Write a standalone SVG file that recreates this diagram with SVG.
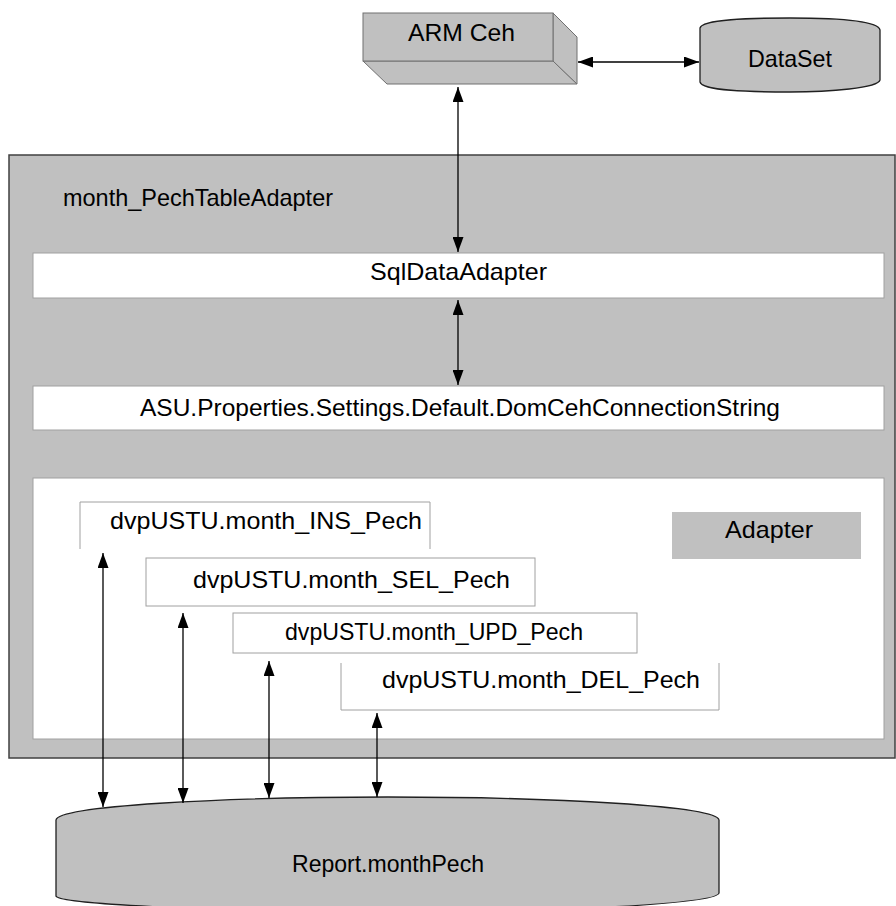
<svg xmlns="http://www.w3.org/2000/svg" width="896" height="906" viewBox="0 0 896 906">
  <style>
    text { font-family: "Liberation Sans", Arial, sans-serif; font-size: 24px; fill: #000; }
    .box { fill: #ffffff; stroke: #a0a0a0; stroke-width: 1; }
    .edge { fill: none; stroke: #a0a0a0; stroke-width: 1; }
    .conn { stroke: #000; stroke-width: 1.3; fill: none; marker-start: url(#ah); marker-end: url(#ah); }
  </style>
  <defs>
    <marker id="ah" viewBox="0 0 15 11" refX="15" refY="5.5" markerWidth="15" markerHeight="11" markerUnits="userSpaceOnUse" orient="auto-start-reverse">
      <path d="M0,0 L15,5.5 L0,11 z" fill="#000"/>
    </marker>
  </defs>

  <rect width="896" height="906" fill="#ffffff"/>

  <!-- outer table adapter container -->
  <g id="month_PechTableAdapter">
    <rect x="9" y="155" width="886" height="603" fill="#c0c0c0" stroke="#404040" stroke-width="1.5"/>
    <text x="63" y="206" textLength="270" lengthAdjust="spacingAndGlyphs">month_PechTableAdapter</text>
  </g>

  <!-- ARM Ceh 3D block -->
  <g id="arm_ceh">
    <polygon points="363,61 553,61 577,84 387,84" fill="#c0c0c0" stroke="#707070" stroke-width="1"/>
    <polygon points="553,13 577,37 577,84 553,61" fill="#c0c0c0" stroke="#707070" stroke-width="1"/>
    <rect x="363" y="13" width="190" height="48" fill="#c0c0c0" stroke="#707070" stroke-width="1"/>
    <text x="408" y="41" textLength="107" lengthAdjust="spacingAndGlyphs">ARM Ceh</text>
  </g>

  <!-- DataSet storage -->
  <g id="dataset">
    <path d="M700,28 C702,19 750,18 790,18 C830,18 878,20 880,30 L880,80 C878,88 830,92 790,92 C750,92 702,91 700,82 Z" fill="#c0c0c0" stroke="#202020" stroke-width="1.3"/>
    <text x="748" y="67" textLength="84" lengthAdjust="spacingAndGlyphs">DataSet</text>
  </g>

  <!-- SqlDataAdapter bar -->
  <g id="sqldataadapter">
    <rect class="box" x="33" y="253" width="851" height="45"/>
    <text x="370" y="280" textLength="177" lengthAdjust="spacingAndGlyphs">SqlDataAdapter</text>
  </g>

  <!-- connection string bar -->
  <g id="connection_string">
    <rect class="box" x="33" y="386" width="851" height="44"/>
    <text x="140" y="416" textLength="640" lengthAdjust="spacingAndGlyphs">ASU.Properties.Settings.Default.DomCehConnectionString</text>
  </g>

  <!-- stored procedure panel -->
  <g id="adapter_panel">
    <rect class="box" x="33" y="478" width="851" height="261"/>
  </g>

  <g id="adapter_label">
    <rect x="672" y="512" width="189" height="47" fill="#c0c0c0"/>
    <text x="725" y="538" textLength="88" lengthAdjust="spacingAndGlyphs">Adapter</text>
  </g>

  <g id="ins_pech">
    <rect x="80" y="502" width="350" height="47" fill="#ffffff"/>
    <path class="edge" d="M80,549 L80,502 L430,502 L430,549"/>
    <text x="110" y="529" textLength="312" lengthAdjust="spacingAndGlyphs">dvpUSTU.month_INS_Pech</text>
  </g>

  <g id="sel_pech">
    <rect class="box" x="146" y="558" width="389" height="48"/>
    <text x="193" y="588" textLength="317" lengthAdjust="spacingAndGlyphs">dvpUSTU.month_SEL_Pech</text>
  </g>

  <g id="upd_pech">
    <rect class="box" x="233" y="613" width="404" height="40"/>
    <text x="285" y="640" textLength="298" lengthAdjust="spacingAndGlyphs">dvpUSTU.month_UPD_Pech</text>
  </g>

  <g id="del_pech">
    <rect x="341" y="663" width="378" height="47" fill="#ffffff"/>
    <path class="edge" d="M341,663 L341,710 L719,710 L719,663"/>
    <text x="382" y="688" textLength="318" lengthAdjust="spacingAndGlyphs">dvpUSTU.month_DEL_Pech</text>
  </g>

  <!-- Report table storage -->
  <g id="report_monthpech">
    <path d="M56,820 C58,806 220,797 388,797 C556,797 717,806 719,820 L719,893 C717,904 556,912 388,912 C220,912 58,904 56,896 Z" fill="#c0c0c0" stroke="#202020" stroke-width="1.3"/>
    <text x="292" y="872" textLength="192" lengthAdjust="spacingAndGlyphs">Report.monthPech</text>
  </g>

  <!-- connectors -->
  <g id="connectors">
    <line class="conn" x1="578" y1="62" x2="699" y2="62"/>
    <line class="conn" x1="458" y1="87" x2="458" y2="252"/>
    <line class="conn" x1="458" y1="300" x2="458" y2="385"/>
    <line class="conn" x1="103" y1="553" x2="103" y2="807"/>
    <line class="conn" x1="183" y1="613" x2="183" y2="803"/>
    <line class="conn" x1="269" y1="661" x2="269" y2="798"/>
    <line class="conn" x1="377" y1="713" x2="377" y2="797"/>
  </g>
</svg>
